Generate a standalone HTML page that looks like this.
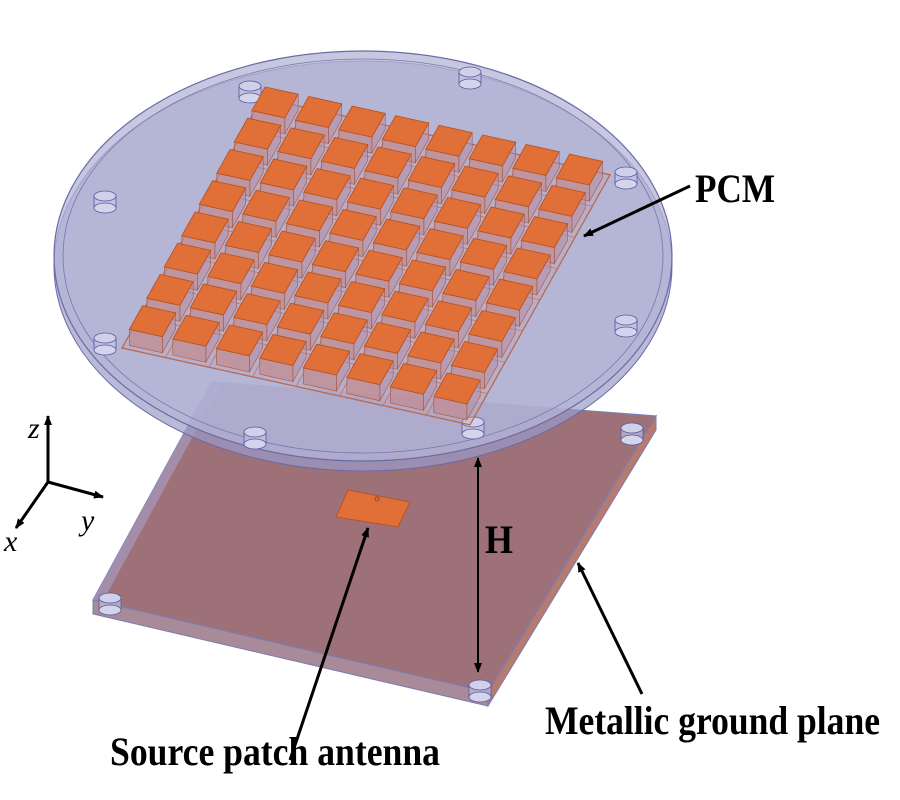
<!DOCTYPE html>
<html><head><meta charset="utf-8"><style>html,body{margin:0;padding:0;background:#fff}svg{display:block}</style></head>
<body>
<svg id="s" width="900" height="800" viewBox="0 0 900 800" xmlns="http://www.w3.org/2000/svg">
<defs>
<marker id="ah" markerWidth="10" markerHeight="10" refX="9" refY="5" orient="auto" markerUnits="userSpaceOnUse"><path d="M0,1 L10,5 L0,9 Z" fill="#000"/></marker>
<marker id="ah2" markerWidth="10" markerHeight="10" refX="1" refY="5" orient="auto" markerUnits="userSpaceOnUse"><path d="M10,1 L0,5 L10,9 Z" fill="#000"/></marker>
</defs>
<!-- ground plane -->
<polygon points="93,600 488,692 488,706 93,614" fill="#a98a98" stroke="#7c7cb0" stroke-width="1"/>
<polygon points="488,692 656,416 656,430 488,706" fill="#b77a6f" stroke="#7c7cb0" stroke-width="1"/>
<polygon points="93,600 212,382 656,416 488,692" fill="#9e7179" stroke="#7c7cb0" stroke-width="1.2"/>
<polygon points="93,600 212,382 222,383 103,601" fill="#a9a0c8" fill-opacity="0.6"/>
<g id="gposts"></g>
<!-- source patch -->
<polygon points="348,490 410,502 398,527 336,517" fill="#e06f38" stroke="#b45528"/>
<circle cx="377" cy="499" r="2" fill="none" stroke="#8a4a3a"/>
<!-- disk -->
<ellipse cx="363" cy="266" rx="309" ry="205" fill="#9b9bc8" fill-opacity="0.7" stroke="#6a6aa8" stroke-width="1"/>
<ellipse cx="363" cy="256" rx="309" ry="205" fill="#b4b4d6" fill-opacity="0.75" stroke="#6a6aa8" stroke-width="1.2"/>
<ellipse cx="363" cy="256" rx="300" ry="197" fill="none" stroke="#7777b0" stroke-width="0.8"/>
<g id="dposts"></g>
<g id="pcm"></g>
<!-- arrows -->
<line x1="690" y1="186" x2="584" y2="236" stroke="#000" stroke-width="3" marker-end="url(#ah)"/>
<line x1="478" y1="458" x2="478" y2="672" stroke="#000" stroke-width="2" marker-end="url(#ah)" marker-start="url(#ah2)"/>
<line x1="290" y1="760" x2="368" y2="528" stroke="#000" stroke-width="3" marker-end="url(#ah)"/>
<line x1="642" y1="694" x2="578" y2="563" stroke="#000" stroke-width="3" marker-end="url(#ah)"/>
<!-- axes -->
<line x1="48" y1="482" x2="48" y2="416" stroke="#000" stroke-width="3" marker-end="url(#ah)"/>
<line x1="48" y1="482" x2="103" y2="497" stroke="#000" stroke-width="3" marker-end="url(#ah)"/>
<line x1="48" y1="482" x2="16" y2="528" stroke="#000" stroke-width="3" marker-end="url(#ah)"/>
<g font-family="'Liberation Serif',serif" font-style="italic" font-size="30">
<text x="28" y="438">z</text><text x="81" y="530">y</text><text x="4" y="551">x</text></g>
<g font-family="'Liberation Serif',serif" font-weight="bold" fill="#000">
<text x="695" y="202" font-size="40" textLength="80" lengthAdjust="spacingAndGlyphs">PCM</text>
<text x="485" y="553" font-size="40" textLength="28" lengthAdjust="spacingAndGlyphs">H</text>
<text x="110" y="765" font-size="40" textLength="330" lengthAdjust="spacingAndGlyphs">Source patch antenna</text>
<text x="545" y="734" font-size="40" textLength="335" lengthAdjust="spacingAndGlyphs">Metallic ground plane</text>
</g>
</svg>
<script>
var NS="http://www.w3.org/2000/svg";
function el(p,t,a){var e=document.createElementNS(NS,t);for(var k in a)e.setAttribute(k,a[k]);p.appendChild(e);return e;}
function post(g,x,y){
 el(g,"rect",{x:x-11,y:y,width:22,height:12,fill:"#c8c8e4","fill-opacity":0.6,stroke:"none"});
 el(g,"ellipse",{cx:x,cy:y+12,rx:11,ry:5,fill:"#d4d4ec",stroke:"#5a5aa0","stroke-width":0.8});
 el(g,"ellipse",{cx:x,cy:y,rx:11,ry:5,fill:"#d0d0ea",stroke:"#5a5aa0","stroke-width":0.8});
 el(g,"line",{x1:x-11,y1:y,x2:x-11,y2:y+12,stroke:"#5a5aa0","stroke-width":0.8});
 el(g,"line",{x1:x+11,y1:y,x2:x+11,y2:y+12,stroke:"#5a5aa0","stroke-width":0.8});
}
var gp=document.getElementById("gposts");
[[110,598],[632,428],[480,685]].forEach(function(p){post(gp,p[0],p[1]);});
var dp=document.getElementById("dposts");
[[470,72],[250,86],[105,196],[626,172],[105,338],[626,320],[255,432],[473,422]].forEach(function(p){post(dp,p[0],p[1]);});
var g=document.getElementById("pcm");
var O=[122,348],u=[43.5,9.6],v=[17.5,-31.25];
function P(a,b){return [O[0]+a*u[0]+b*v[0],O[1]+a*u[1]+b*v[1]];}
function pts(a){return a.map(function(p){return p[0].toFixed(1)+","+p[1].toFixed(1);}).join(" ");}
el(g,"polygon",{points:pts([P(0,0),P(8,0),P(8,8),P(0,8)]),fill:"#c89aa8","fill-opacity":0.3,stroke:"#b45a30","stroke-width":1.2});
for(var i=0;i<=8;i++){var a=P(i,0),b=P(i,8);el(g,"line",{x1:a[0],y1:a[1],x2:b[0],y2:b[1],stroke:"#b87060","stroke-width":0.7});
 a=P(0,i);b=P(8,i);el(g,"line",{x1:a[0],y1:a[1],x2:b[0],y2:b[1],stroke:"#b87060","stroke-width":0.7});}
for(var j=7;j>=0;j--)for(var i=0;i<8;i++){
 var a0=i+0.12,a1=i+0.88,b0=j+0.12,b1=j+0.88,h=16;
 var c=[P(a0,b0),P(a1,b0),P(a1,b1),P(a0,b1)];
 el(g,"polygon",{points:pts([c[0],c[1],[c[1][0],c[1][1]-h],[c[0][0],c[0][1]-h]]),fill:"#c28a8e","fill-opacity":0.7,stroke:"#a85a40","stroke-width":0.6});
 el(g,"polygon",{points:pts([c[1],c[2],[c[2][0],c[2][1]-h],[c[1][0],c[1][1]-h]]),fill:"#b48ca4","fill-opacity":0.5,stroke:"#a85a40","stroke-width":0.6});
 var t=c.map(function(p){return [p[0],p[1]-h];});
 el(g,"polygon",{points:pts(t),fill:"#e06f38",stroke:"#b4501e","stroke-width":0.8});
}
</script>
</body></html>
